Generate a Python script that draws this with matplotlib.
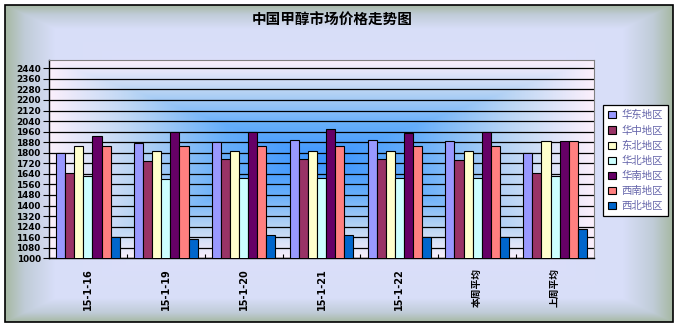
import numpy as np
import matplotlib
matplotlib.use('Agg')
import matplotlib.pyplot as plt
from matplotlib.patches import Rectangle

plt.rcParams['font.family'] = ['DejaVu Sans', 'Noto Sans CJK SC']

dates = ['15-1-16', '15-1-19', '15-1-20', '15-1-21', '15-1-22', '本周平均', '上周平均']
regions = ['华东地区', '华中地区', '东北地区', '华北地区', '华南地区', '西南地区', '西北地区']
east = [1800, 1875, 1880, 1895, 1895, 1886, 1800]
central = [1650, 1735, 1750, 1750, 1750, 1746, 1650]
northeast = [1850, 1810, 1810, 1810, 1810, 1810, 1890]
north = [1620, 1600, 1610, 1610, 1610, 1608, 1620]
south = [1930, 1955, 1955, 1980, 1950, 1960, 1890]
southwest = [1850, 1850, 1850, 1850, 1850, 1850, 1890]
northwest = [1160, 1150, 1175, 1175, 1160, 1165, 1220]
series = [east, central, northeast, north, south, southwest, northwest]
colors = ['#9999ff', '#993366', '#ffffcc', '#ccffff', '#660066', '#ff8080', '#0066cc']
yticks = np.arange(1000, 2441, 80)

W, H = 681, 328
fig = plt.figure(figsize=(W / 100, H / 100), dpi=100, facecolor='white')


def rect_gradient(x0, x1, y0, y1, stops, cols):
    yy, xx = np.mgrid[0:H, 0:W] + 0.5
    cx, cy = (x0 + x1) / 2, (y0 + y1) / 2
    d = np.maximum(np.abs(xx - cx) / ((x1 - x0) / 2), np.abs(yy - cy) / ((y1 - y0) / 2))
    d = np.clip(d, 0, 1)
    rgb = np.array([matplotlib.colors.to_rgb(c) for c in cols])
    img = np.dstack([np.interp(d, stops, rgb[:, k]) for k in range(3)])
    return img, (xx >= x0) & (xx <= x1) & (yy >= y0) & (yy <= y1)


# chart area and plot area fills (pixel space)
fx0, fx1, fy0, fy1 = 5, 673, 5, 322
px0, px1, py0, py1 = 49, 594, 60, 258.3
outer, omask = rect_gradient(fx0, fx1, fy0, fy1, [0, 0.85, 0.94, 1],
                             ['#e2e2fe', '#d8def8', '#c0ccd8', '#a6b8a2'])
inner, mask = rect_gradient(px0, px1, py0, py1, [0, 0.35, 0.7, 1],
                            ['#3a94ff', '#66aefa', '#bcd6f4', '#fcf0fc'])
bgimg = np.ones_like(outer)
bgimg[omask] = outer[omask]
bgimg[mask] = inner[mask]

bg = fig.add_axes([0, 0, 1, 1], zorder=-1)
bg.imshow(bgimg, extent=(0, W, H, 0), aspect='auto', interpolation='bilinear')
bg.add_patch(Rectangle((fx0, fy0), fx1 - fx0, fy1 - fy0, fill=False,
                       edgecolor='black', lw=1.2))
bg.set_xlim(0, W)
bg.set_ylim(H, 0)
bg.axis('off')

ax = fig.add_axes([px0 / W, (H - py1) / H, (px1 - px0) / W, (py1 - py0) / H])
ax.patch.set_alpha(0)

x = np.arange(len(dates))
w = 0.1167
for i, (vals, name, c) in enumerate(zip(series, regions, colors)):
    ax.bar(x + (i - 3) * w, vals, w, color=c, edgecolor='black', lw=0.8,
           label=name, zorder=3)

ax.set_xlim(-0.5, len(dates) - 0.5)
ax.set_ylim(1000, 2503)
ax.set_yticks(yticks)
ax.set_yticklabels([str(v) for v in yticks], fontsize=6.4, fontweight='bold')
ax.yaxis.grid(True, color='black', lw=0.9, zorder=1)
ax.set_axisbelow(True)
ax.tick_params(axis='y', length=4, width=0.8, pad=2)

ax.set_xticks(x)
ax.set_xticklabels(dates, rotation=90, fontsize=7, fontweight='bold', va='top')
ax.tick_params(axis='x', length=0, pad=7)
ax.set_xticks(np.arange(0.5, len(dates) - 1, 1), minor=True)
ax.tick_params(axis='x', which='minor', direction='in', length=3, width=0.8)

for s in ['left', 'bottom']:
    ax.spines[s].set_color('black')
    ax.spines[s].set_linewidth(1)
for s in ['top', 'right']:
    ax.spines[s].set_color('#808080')
    ax.spines[s].set_linewidth(0.8)

fig.text(332 / W, 1 - 19.5 / H, '中国甲醇市场价格走势图', ha='center', va='center',
         fontsize=10.5, fontweight='bold', family=['Noto Sans CJK SC'])

leg = ax.legend(loc='upper left', bbox_to_anchor=(603 / W, 1 - 105 / H),
                bbox_transform=fig.transFigure, borderaxespad=0, fancybox=False,
                frameon=True, edgecolor='black', facecolor='white', framealpha=1,
                handlelength=0.7, handleheight=0.7, handletextpad=0.6,
                labelspacing=0.48, borderpad=0.5, labelcolor='#6464aa',
                prop={'family': ['Noto Sans CJK SC'], 'size': 7.5})
leg.get_frame().set_linewidth(0.9)

fig.savefig('out.png', dpi=100)
